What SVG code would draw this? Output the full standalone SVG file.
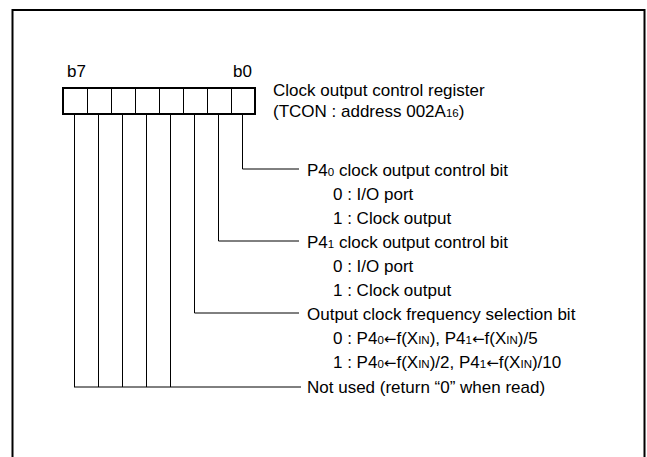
<svg xmlns="http://www.w3.org/2000/svg" width="647" height="457" viewBox="0 0 647 457">
<style>
text{font-family:"Liberation Sans",Arial,sans-serif;font-size:17px;fill:#000}
.s{font-size:11.5px}
.a{font-family:"DejaVu Sans",sans-serif;font-size:15px}
.ln{stroke:#000;stroke-width:1;fill:none}
</style>
<rect x="0" y="0" width="647" height="457" fill="#fff"/>
<rect id="frame" x="12.5" y="10" width="632" height="470" fill="none" stroke="#000" stroke-width="2"/>
<g id="register">
<rect x="63" y="88" width="192" height="26" fill="#fff" stroke="#000" stroke-width="2"/>
<path class="ln" d="M87.5 88V114M111.5 88V114M135.5 88V114M159.5 88V114M183.5 88V114M207.5 88V114M231.5 88V114"/>
<text x="67" y="77">b7</text>
<text x="233" y="77">b0</text>
<text x="273" y="96">Clock output control register</text>
<text x="273" y="117">(TCON : address 002A<tspan class="s">16</tspan>)</text>
</g>
<g id="connectors">
<path class="ln" d="M242.5 115V169H299"/>
<path class="ln" d="M218.5 115V241H299"/>
<path class="ln" d="M194.5 115V313H299"/>
<path class="ln" d="M170.5 115V387M146.5 115V387M122.5 115V387M98.5 115V387M74.5 115V387M74 387H301"/>
</g>
<g id="bit0">
<text x="307" y="176">P4<tspan class="s">0</tspan> clock output control bit</text>
<text x="333" y="200">0 : I/O port</text>
<text x="333" y="224">1 : Clock output</text>
</g>
<g id="bit1">
<text x="307" y="248">P4<tspan class="s">1</tspan> clock output control bit</text>
<text x="333" y="272">0 : I/O port</text>
<text x="333" y="296">1 : Clock output</text>
</g>
<g id="bit2">
<text x="307" y="320">Output clock frequency selection bit</text>
<text x="333" y="344">0 : P4<tspan class="s">0</tspan><tspan class="a">←</tspan>f(X<tspan class="s">IN</tspan>), P4<tspan class="s">1</tspan><tspan class="a">←</tspan>f(X<tspan class="s">IN</tspan>)/5</text>
<text x="333" y="368">1 : P4<tspan class="s">0</tspan><tspan class="a">←</tspan>f(X<tspan class="s">IN</tspan>)/2, P4<tspan class="s">1</tspan><tspan class="a">←</tspan>f(X<tspan class="s">IN</tspan>)/10</text>
</g>
<g id="bits3-7">
<text x="307" y="393">Not used (return “0” when read)</text>
</g>
</svg>
